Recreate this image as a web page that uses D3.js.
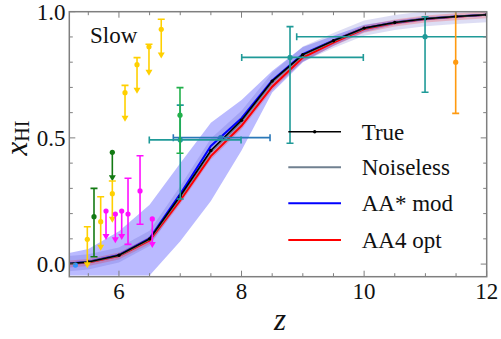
<!DOCTYPE html>
<html>
<head>
<meta charset="utf-8">
<script src="https://cdn.jsdelivr.net/npm/d3@7"></script>
<style>
  body { margin: 0; background: #fff; }
</style>
</head>
<body>
<div id="chart"></div>
<script>
// ---- data ----
var zGrid      = [5.0, 5.5, 6.0, 6.5, 7.0, 7.5, 8.0, 8.5, 9.0, 9.5, 10.0, 10.5, 11.0, 11.5, 12.0];
var xTrue      = [-0.002, 0.008, 0.035, 0.10, 0.27, 0.45, 0.57, 0.725, 0.83, 0.885, 0.935, 0.957, 0.972, 0.981, 0.988];
var xNoiseless = [-0.002, 0.008, 0.034, 0.098, 0.265, 0.445, 0.565, 0.72, 0.828, 0.884, 0.934, 0.957, 0.972, 0.981, 0.988];
var xAAstar    = [-0.002, 0.009, 0.036, 0.102, 0.278, 0.468, 0.578, 0.728, 0.832, 0.886, 0.935, 0.957, 0.972, 0.981, 0.988];
var xAA4       = [-0.003, 0.006, 0.032, 0.094, 0.252, 0.428, 0.548, 0.703, 0.818, 0.878, 0.931, 0.955, 0.971, 0.980, 0.988];
var bandLo     = [-0.045, -0.045, -0.045, -0.045, 0.09, 0.25, 0.45, 0.68, 0.80, 0.865, 0.92, 0.948, 0.965, 0.976, 0.985];
var bandHi     = [0.035, 0.06, 0.13, 0.235, 0.40, 0.56, 0.65, 0.765, 0.86, 0.905, 0.948, 0.966, 0.979, 0.986, 0.991];

// upper limits with a capped upward error: [z, x, errUp]
var goldLimits = [[5.484, 0.098, 0.050], [5.702, 0.168, 0.099], [5.892, 0.279, 0.05],
                  [6.099, 0.679, 0.029], [6.295, 0.790, 0.028], [6.490, 0.861, 0.010], [6.690, 0.930, 0.040]];
// plain upper limits: [z, x]
var magentaLimits   = [[5.789, 0.210], [5.941, 0.198], [6.045, 0.210], [6.544, 0.179]];
var darkGreenLimits = [[5.892, 0.443]];
// points with errors: [z, x, errDown, errUp, zErrLeft, zErrRight]
var magentaPoints   = [[6.148, 0.198, 0.120, 0.142, 0, 0], [6.344, 0.290, 0.132, 0.139, 0, 0]];
var darkGreenPoints = [[5.593, 0.188, 0.159, 0.112, 0, 0]];
var greenPoints     = [[6.996, 0.590, 0.151, 0.109, 0, 0]];
var tealPoints      = [[7.0, 0.492, 0.234, 0.138, 0.505, 0.992], [8.791, 0.819, 0.340, 0.122, 0.788, 1.196],
                       [10.994, 0.901, 0.220, 0.079, 2.094, 2.094]];
var steelPoints     = [[7.66, 0.501, 0, 0, 0.773, 0.805]];
var orangePoints    = [[11.494, 0.800, 0.203, 0.203, 0, 0]];
var bluePoints      = [[5.29, -0.004, 0, 0, 0, 0]];

var xTicks = [6, 8, 10, 12];
var yTicks = [0.0, 0.5, 1.0];
var legendNames = ["True", "Noiseless", "AA* mod", "AA4 opt"];
var legendColors = ["#000000", "#708090", "#0000ff", "#ff0000"];

// ---- layout ----
var width = 501, height = 339;
var margin = {left: 69.3, right: 14.3, top: 11.7, bottom: 62.3};
var arrowLen = 0.115;
var serif = "'Liberation Serif', 'DejaVu Serif', 'Times New Roman', serif";

var svg = d3.select("#chart").append("svg")
    .attr("width", width).attr("height", height)
    .attr("font-family", serif);

var x = d3.scaleLinear().domain([5.19, 12]).range([margin.left, width - margin.right]);
var y = d3.scaleLinear().domain([-0.05, 1.0]).range([height - margin.bottom, margin.top]);

svg.append("clipPath").attr("id", "plotclip").append("rect")
    .attr("x", margin.left).attr("y", margin.top)
    .attr("width", width - margin.left - margin.right)
    .attr("height", height - margin.top - margin.bottom);

var plot = svg.append("g").attr("clip-path", "url(#plotclip)");

var rows = zGrid.map(function (z, i) {
    return {z: z, t: xTrue[i], n: xNoiseless[i], a: xAAstar[i], r: xAA4[i], lo: bandLo[i], hi: bandHi[i]};
});

// bands
plot.append("path").datum(rows)
    .attr("d", d3.area().x(function (d) { return x(d.z); })
        .y0(function (d) { return y(d.lo); }).y1(function (d) { return y(d.hi); }))
    .attr("fill", "#0000ff").attr("fill-opacity", 0.27);
plot.append("path").datum(rows)
    .attr("d", d3.area().x(function (d) { return x(d.z); })
        .y0(function (d) { return y(d.a - 0.03); }).y1(function (d) { return y(d.a + 0.03); }))
    .attr("fill", "#4040c0").attr("fill-opacity", 0.18);
plot.append("path").datum(rows)
    .attr("d", d3.area().x(function (d) { return x(d.z); })
        .y0(function (d) { return y(d.r - 0.014); }).y1(function (d) { return y(d.r + 0.014); }))
    .attr("fill", "#ff0000").attr("fill-opacity", 0.2);

function curve(key) {
    return d3.line().x(function (d) { return x(d.z); }).y(function (d) { return y(d[key]); });
}
plot.append("path").datum(rows).attr("d", curve("r")).attr("fill", "none").attr("stroke", "#ff0000").attr("stroke-width", 2);
plot.append("path").datum(rows).attr("d", curve("a")).attr("fill", "none").attr("stroke", "#0000ff").attr("stroke-width", 2);
plot.append("path").datum(rows).attr("d", curve("n")).attr("fill", "none").attr("stroke", "#708090").attr("stroke-width", 2);
plot.append("path").datum(rows).attr("d", curve("t")).attr("fill", "none").attr("stroke", "#000").attr("stroke-width", 1.6);
plot.selectAll(".tdot").data(rows).enter().append("circle")
    .attr("cx", function (d) { return x(d.z); }).attr("cy", function (d) { return y(d.t); })
    .attr("r", 1.7).attr("fill", "#000");

// error bars
function arrowHead(g, px, py, color) {
    g.append("path")
        .attr("d", "M" + (px - 3.5) + "," + (py - 6) + "L" + (px + 3.5) + "," + (py - 6) + "L" + px + "," + py + "Z")
        .attr("fill", color);
}
function vline(g, xx, y1, y2, color) {
    g.append("line").attr("x1", xx).attr("x2", xx).attr("y1", y1).attr("y2", y2)
        .attr("stroke", color).attr("stroke-width", 1.6);
}
function hline(g, x1, x2, yy, color) {
    g.append("line").attr("x1", x1).attr("x2", x2).attr("y1", yy).attr("y2", yy)
        .attr("stroke", color).attr("stroke-width", 1.6);
}
function drawPoints(data, color, r) {
    data.forEach(function (d) {
        var px = x(d[0]), py = y(d[1]);
        if (d[2] || d[3]) {
            var yd = y(d[1] - d[2]), yu = y(d[1] + d[3]);
            vline(plot, px, yu, yd, color);
            hline(plot, px - 3.5, px + 3.5, yu, color);
            hline(plot, px - 3.5, px + 3.5, yd, color);
        }
        if (d[4] || d[5]) {
            var xl = x(d[0] - d[4]), xr = x(d[0] + d[5]);
            hline(plot, xl, xr, py, color);
            vline(plot, xl, py - 3.5, py + 3.5, color);
            vline(plot, xr, py - 3.5, py + 3.5, color);
        }
        plot.append("circle").attr("cx", px).attr("cy", py).attr("r", r).attr("fill", color);
    });
}
function drawLimits(data, color, capped) {
    data.forEach(function (d) {
        var px = x(d[0]), py = y(d[1]);
        var tip = y(d[1] - arrowLen);
        if (capped) {
            var yu = y(d[1] + d[2]);
            vline(plot, px, yu, py, color);
            hline(plot, px - 3.5, px + 3.5, yu, color);
        }
        vline(plot, px, py, tip - 4, color);
        arrowHead(plot, px, tip, color);
        plot.append("circle").attr("cx", px).attr("cy", py).attr("r", 2.6).attr("fill", color);
    });
}

drawPoints(steelPoints, "#2a78b8", 2.6);
drawPoints(tealPoints, "#1f9a98", 2.6);
drawPoints(greenPoints, "#22b04b", 2.6);
drawPoints(orangePoints, "#ff9a10", 2.6);
drawPoints(darkGreenPoints, "#137a13", 2.6);
drawLimits(darkGreenLimits, "#137a13", false);
drawLimits(goldLimits, "#ffd000", true);
drawLimits(magentaLimits, "#ff10ff", false);
drawPoints(magentaPoints, "#ff10ff", 2.6);
drawPoints(bluePoints, "#2d93ff", 2.6);

// frame and ticks
var frame = svg.append("g");
var x0 = margin.left, x1 = width - margin.right, y0 = height - margin.bottom, y1 = margin.top;
var tickColor = "#7f7f7f";
d3.range(5.5, 12.01, 0.5).forEach(function (t) {
    var major = xTicks.indexOf(t) >= 0;
    var len = major ? 6 : 3.5;
    frame.append("line").attr("x1", x(t)).attr("x2", x(t)).attr("y1", y0).attr("y2", y0 - len).attr("stroke", tickColor);
    frame.append("line").attr("x1", x(t)).attr("x2", x(t)).attr("y1", y1).attr("y2", y1 + len).attr("stroke", tickColor);
});
d3.range(0, 1.001, 0.1).forEach(function (t) {
    var major = Math.abs(t * 2 - Math.round(t * 2)) < 1e-6;
    var len = major ? 6 : 3.5;
    frame.append("line").attr("y1", y(t)).attr("y2", y(t)).attr("x1", x0).attr("x2", x0 + len).attr("stroke", tickColor);
    frame.append("line").attr("y1", y(t)).attr("y2", y(t)).attr("x1", x1).attr("x2", x1 - len).attr("stroke", tickColor);
});
frame.append("rect").attr("x", x0).attr("y", y1).attr("width", x1 - x0).attr("height", y0 - y1)
    .attr("fill", "none").attr("stroke", tickColor).attr("stroke-width", 1.5);

svg.selectAll(".xl").data(xTicks).enter().append("text")
    .attr("x", function (d) { return x(d); }).attr("y", 299)
    .attr("text-anchor", "middle").attr("font-size", 23).attr("fill", "#111")
    .text(function (d) { return d; });
svg.selectAll(".yl").data(yTicks).enter().append("text")
    .attr("x", 65.5).attr("y", function (d) { return y(d) + 8; })
    .attr("text-anchor", "end").attr("font-size", 23).attr("fill", "#111")
    .text(function (d) { return d.toFixed(1); });

// axis labels
svg.append("text").attr("x", 280).attr("y", 330).attr("text-anchor", "middle")
    .attr("font-size", 31).attr("font-style", "italic").attr("fill", "#111").text("z");
var yl = svg.append("text").attr("transform", "translate(27,138) rotate(-90)")
    .attr("text-anchor", "middle").attr("font-size", 31).attr("fill", "#111");
yl.append("tspan").attr("font-style", "italic").text("x");
yl.append("tspan").attr("font-size", 20).attr("dy", 2).text("HI");

svg.append("text").attr("x", 90).attr("y", 43).attr("font-size", 23).attr("fill", "#111").text("Slow");

// legend
var legendY = [131.7, 167.3, 203.3, 240];
legendNames.forEach(function (name, i) {
    svg.append("line").attr("x1", 288.3).attr("x2", 341).attr("y1", legendY[i]).attr("y2", legendY[i])
        .attr("stroke", legendColors[i]).attr("stroke-width", i === 0 ? 1.6 : 2);
    if (i === 0) {
        svg.append("circle").attr("cx", 314.7).attr("cy", legendY[i]).attr("r", 1.7).attr("fill", "#000");
    }
    svg.append("text").attr("x", 361.7).attr("y", legendY[i] + 8).attr("font-size", 23).attr("fill", "#111").text(name);
});
</script>
</body>
</html>
